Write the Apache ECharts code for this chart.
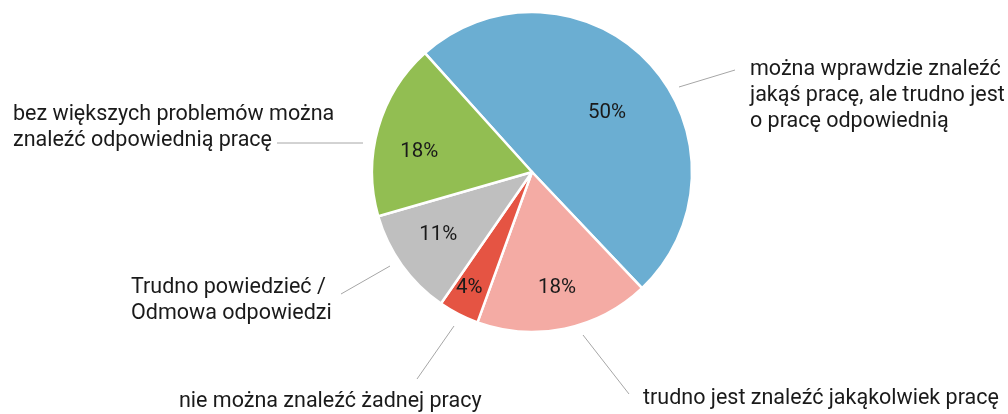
<!DOCTYPE html>
<html>
<head>
<meta charset="utf-8">
<script src="https://cdn.jsdelivr.net/npm/echarts@6/dist/echarts.min.js"></script>
<style>
  html, body { margin: 0; padding: 0; background: #fff; }
  #chart { width: 1008px; height: 414px; }
</style>
</head>
<body>
<div id="chart"></div>
<script>
// dane (w %)
var categories = [
  'można wprawdzie znaleźć\njakąś pracę, ale trudno jest\no pracę odpowiednią',
  'trudno jest znaleźć jakąkolwiek pracę',
  'nie można znaleźć żadnej pracy',
  'Trudno powiedzieć /\nOdmowa odpowiedzi',
  'bez większych problemów można\nznaleźć odpowiednią pracę'
];
var values = [49.6, 17.6, 4.1, 10.9, 17.8];
var colors = ['#6baed2', '#f4aba4', '#e55443', '#bfbfbf', '#92be52'];

// rozmieszczenie opisów (x, y środka tekstu) i linii
var outerSpots = [
  { x: 750, y: 96, line: [[679, 87], [735, 70]] },
  { x: 643, y: 399, line: [[583, 335], [629, 394]] },
  { x: 179, y: 402, line: [[454, 326], [417, 379]] },
  { x: 131, y: 301, line: [[390, 266], [341, 294]] },
  { x: 13, y: 128, line: [[363, 143], [277, 143]] }
];
var innerNudge = [[-8, 18], [2, 5], [-11, 15], [-2, -3], [-4, 11]];

var pieData = categories.map(function (c, i) {
  return { name: c, value: values[i], itemStyle: { color: colors[i] } };
});

var chart = echarts.init(document.getElementById('chart'));
chart.setOption({
  animation: false,
  textStyle: { fontFamily: 'Roboto' },
  series: [
    {
      type: 'pie',
      center: [532, 172],
      radius: 160,
      startAngle: 132,
      clockwise: true,
      avoidLabelOverlap: false,
      itemStyle: { borderColor: '#fff', borderWidth: 2.5 },
      label: {
        show: true,
        position: 'outside',
        formatter: '{b}',
        color: '#1a1a1a',
        fontSize: 21.5,
        lineHeight: 26,
        fontFamily: 'Roboto'
      },
      labelLine: { show: true, lineStyle: { color: '#a6a6a6', width: 1 } },
      labelLayout: function (params) {
        var s = outerSpots[params.dataIndex];
        return { x: s.x, y: s.y, align: 'left', verticalAlign: 'middle', labelLinePoints: s.line };
      },
      emphasis: { disabled: true },
      data: pieData
    },
    {
      type: 'pie',
      center: [532, 172],
      radius: [60, 160],
      startAngle: 132,
      clockwise: true,
      silent: true,
      itemStyle: { color: 'transparent', borderWidth: 0 },
      label: {
        show: true,
        position: 'inside',
        formatter: function (p) { return Math.round(p.value) + '%'; },
        color: '#1a1a1a',
        fontSize: 20.5,
        fontFamily: 'Roboto'
      },
      labelLine: { show: false },
      labelLayout: function (params) {
        var n = innerNudge[params.dataIndex];
        return { dx: n[0], dy: n[1] };
      },
      emphasis: { disabled: true },
      data: values.map(function (v, i) { return { name: 'p' + i, value: v }; })
    }
  ]
});
</script>
</body>
</html>
